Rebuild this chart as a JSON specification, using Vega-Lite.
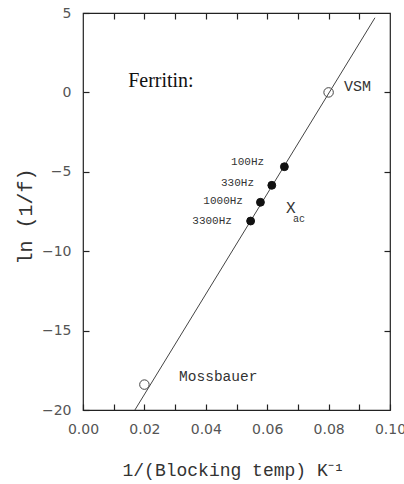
{
  "$schema": "https://vega.github.io/schema/vega-lite/v6.json",
  "width": 307,
  "height": 397,
  "autosize": "none",
  "padding": {"left": 83, "top": 13, "right": 14, "bottom": 74},
  "background": "white",
  "config": {
    "view": {"stroke": "#222", "strokeWidth": 1.2},
    "axis": {"grid": false, "domain": false, "ticks": true, "tickColor": "#222", "tickWidth": 1.2, "labelFont": "DejaVu Sans", "labelFontSize": 14, "labelColor": "#555", "titleFont": "Liberation Mono", "titleFontWeight": "normal", "titleColor": "#333"}
  },
  "datasets": {
    "fit": [
      {"x": 0.0169, "y": -20},
      {"x": 0.0951, "y": 4.7}
    ],
    "points": [
      {"x": 0.08, "y": 0.0, "method": "VSM"},
      {"x": 0.02, "y": -18.4, "method": "Mossbauer"},
      {"x": 0.0656, "y": -4.68, "method": "Xac"},
      {"x": 0.0615, "y": -5.85, "method": "Xac"},
      {"x": 0.0578, "y": -6.92, "method": "Xac"},
      {"x": 0.0546, "y": -8.1, "method": "Xac"}
    ],
    "freqLabels": [
      {"x": 0.059, "y": -4.38, "text": "100Hz"},
      {"x": 0.0557, "y": -5.71, "text": "330Hz"},
      {"x": 0.0521, "y": -6.84, "text": "1000Hz"},
      {"x": 0.0485, "y": -8.1, "text": "3300Hz"}
    ]
  },
  "resolve": {"axis": {"x": "independent", "y": "independent"}},
  "layer": [
    {
      "data": {"name": "fit"},
      "mark": {"type": "line", "color": "#444", "strokeWidth": 1, "clip": true},
      "encoding": {
        "x": {"field": "x", "type": "quantitative", "scale": {"domain": [0, 0.1], "nice": false},
          "axis": {"orient": "bottom", "values": [0, 0.01, 0.02, 0.03, 0.04, 0.05, 0.06, 0.07, 0.08, 0.09, 0.1],
            "labelExpr": "round(datum.value * 100) % 2 == 0 ? format(datum.value, '.2f') : ''",
            "tickSize": -6,
            "labelPadding": 18, "labelFlush": false,
            "title": "1/(Blocking temp) K⁻¹", "titleFontSize": 18, "titleY": 60, "titleX": 150, "titleBaseline": "middle"}},
        "y": {"field": "y", "type": "quantitative", "scale": {"domain": [-20, 5], "nice": false},
          "axis": {"orient": "left", "values": [-20, -15, -10, -5, 0, 5], "tickSize": -6, "labelPadding": 18, "labelFlush": false,
            "title": "ln (1/f)", "titleFontSize": 20, "titleAngle": -90, "titleX": -58, "titleY": 203, "titleBaseline": "middle", "titleAlign": "center"}}
      }
    },
    {
      "data": {"name": "points"},
      "mark": {"type": "point", "shape": "circle", "strokeWidth": 1},
      "encoding": {
        "x": {"field": "x", "type": "quantitative",
          "axis": {"orient": "top", "values": [0.01, 0.02, 0.03, 0.04, 0.05, 0.06, 0.07, 0.08, 0.09], "labels": false, "tickSize": -6, "title": null}},
        "y": {"field": "y", "type": "quantitative",
          "axis": {"orient": "right", "values": [-15, -10, -5, 0], "labels": false, "tickSize": -6, "title": null}},
        "color": {"condition": {"test": "datum.method == 'Xac'", "value": "#111"}, "value": "#444"},
        "fill": {"condition": {"test": "datum.method == 'Xac'", "value": "#111"}, "value": "transparent"},
        "size": {"condition": {"test": "datum.method == 'Xac'", "value": 62}, "value": 90},
        "opacity": {"value": 1}
      }
    },
    {
      "data": {"name": "freqLabels"},
      "mark": {"type": "text", "align": "right", "baseline": "middle", "font": "Liberation Mono", "fontSize": 11, "color": "#333"},
      "encoding": {
        "x": {"field": "x", "type": "quantitative", "axis": null},
        "y": {"field": "y", "type": "quantitative", "axis": null},
        "text": {"field": "text"}
      }
    },
    {
      "data": {"values": [{"x": 0.0147, "y": 0.72, "text": "Ferritin:"}]},
      "mark": {"type": "text", "align": "left", "baseline": "middle", "font": "Liberation Serif", "fontSize": 20, "color": "#111"},
      "encoding": {
        "x": {"field": "x", "type": "quantitative", "axis": null},
        "y": {"field": "y", "type": "quantitative", "axis": null},
        "text": {"field": "text"}
      }
    },
    {
      "data": {"values": [
        {"x": 0.085, "y": 0.4, "text": "VSM", "size": 15},
        {"x": 0.0313, "y": -17.9, "text": "Mossbauer", "size": 14.5},
        {"x": 0.0661, "y": -7.28, "text": "X", "size": 16},
        {"x": 0.0684, "y": -7.95, "text": "ac", "size": 10}
      ]},
      "mark": {"type": "text", "align": "left", "baseline": "middle", "font": "Liberation Mono", "color": "#333"},
      "encoding": {
        "x": {"field": "x", "type": "quantitative", "axis": null},
        "y": {"field": "y", "type": "quantitative", "axis": null},
        "text": {"field": "text"},
        "size": {"field": "size", "type": "quantitative", "scale": null}
      }
    }
  ]
}
